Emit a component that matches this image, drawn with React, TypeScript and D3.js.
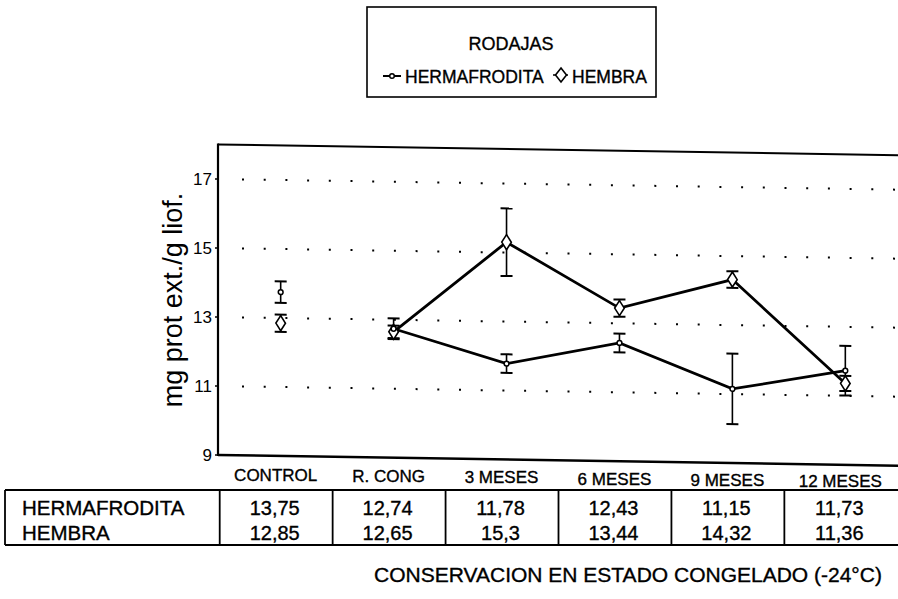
import React from "react";
import * as d3 from "d3";

const categories = ["CONTROL", "R. CONG", "3 MESES", "6 MESES", "9 MESES", "12 MESES"];
const hermafrodita = [13.75, 12.74, 11.78, 12.43, 11.15, 11.73];
const hembra = [12.85, 12.65, 15.3, 13.44, 14.32, 11.36];
const hermafroditaErr = [0.31, 0.3, 0.27, 0.27, 1.02, 0.72];
const hembraErr = [0.25, 0.18, 0.98, 0.25, 0.24, 0.22];
const tableHerm = ["13,75", "12,74", "11,78", "12,43", "11,15", "11,73"];
const tableHemb = ["12,85", "12,65", "15,3", "13,44", "14,32", "11,36"];
const yTicks = [9, 11, 13, 15, 17];
const gridValues = [11, 13, 15, 17];

const W = 898;
const H = 599;
const FONT = "'Liberation Sans', Arial, Helvetica, sans-serif";
const TS = { stroke: "#000", strokeWidth: 0.35 };

export default function App() {
  const x = d3.scalePoint<string>().domain(categories).range([218, 908]).padding(0.555);
  const y = d3.scaleLinear().domain([9, 18]).range([455, 144.5]);
  const step = x.step();
  const left = 218;
  const right = 908;

  const line = d3
    .line<[number, number]>()
    .x((d) => d[0])
    .y((d) => d[1]);

  const connected = (vals: number[]) =>
    vals.slice(1).map((v, i) => [x(categories[i + 1]) as number, y(v)] as [number, number]);

  const errBar = (cx: number, v: number, e: number, key: string) => {
    const t = y(v + e);
    const b = y(v - e);
    const cw = 6;
    return (
      <g key={key} stroke="#000">
        <line x1={cx} x2={cx} y1={t} y2={b} strokeWidth={1.6} />
        <line x1={cx - cw} x2={cx + cw} y1={t} y2={t} strokeWidth={2} />
        <line x1={cx - cw} x2={cx + cw} y1={b} y2={b} strokeWidth={2} />
      </g>
    );
  };

  const diamond = (cx: number, cy: number, hw: number, hh: number) =>
    `M${cx},${cy - hh}L${cx + hw},${cy}L${cx},${cy + hh}L${cx - hw},${cy}Z`;

  const skew = `translate(${left},0) skewY(0.9) translate(${-left},0)`;

  return (
    <svg
      width={W}
      height={H}
      style={{ position: "absolute", left: 0, top: 0, background: "#fff" }}
      fontFamily={FONT}
    >
      <rect x={0} y={0} width={W} height={H} fill="#fff" />

      {/* Legend */}
      <g>
        <rect x={367} y={7} width={289} height={90} fill="none" stroke="#000" strokeWidth={1.6} />
        <text x={511} y={50} textAnchor="middle" fontSize={18} fill="#000" {...TS}>
          RODAJAS
        </text>
        <line x1={383} x2={401} y1={76} y2={76} stroke="#000" strokeWidth={2} />
        <circle cx={392} cy={76} r={2.3} fill="#fff" stroke="#000" strokeWidth={1.5} />
        <text x={405} y={83} fontSize={17.5} fill="#000" {...TS}>
          HERMAFRODITA
        </text>
        <line x1={553} x2={568} y1={75} y2={75} stroke="#000" strokeWidth={1.5} />
        <path d={diamond(561, 75, 5.5, 7)} fill="#fff" stroke="#000" strokeWidth={1.6} />
        <text x={572} y={83} fontSize={17.5} fill="#000" {...TS}>
          HEMBRA
        </text>
      </g>

      {/* Y axis label */}
      <text
        transform={`translate(182,300) rotate(-90)`}
        textAnchor="middle"
        fontSize={27}
        fill="#000"
      >
        mg prot ext./g liof.
      </text>

      {/* Y tick labels */}
      {yTicks.map((t) => (
        <text key={t} x={212} y={y(t) + 6} textAnchor="end" fontSize={17} fill="#000">
          {t}
        </text>
      ))}

      {/* Plot area (slightly skewed like the scan) */}
      <g transform={skew}>
        {gridValues.map((g) => (
          <line
            key={g}
            x1={left + 24}
            x2={right}
            y1={y(g)}
            y2={y(g)}
            stroke="#000"
            strokeWidth={2}
            strokeDasharray="2 19.7"
          />
        ))}
        {yTicks.map((t) => (
          <line key={"tk" + t} x1={left - 3} x2={left} y1={y(t)} y2={y(t)} stroke="#000" strokeWidth={1.5} />
        ))}
        <line x1={left} x2={right} y1={y(18)} y2={y(18)} stroke="#000" strokeWidth={2} />
        <line x1={left} x2={right} y1={y(9)} y2={y(9)} stroke="#000" strokeWidth={2.5} />
        <line x1={left} x2={left} y1={y(18) - 1} y2={y(9) + 1} stroke="#000" strokeWidth={2.2} />

        <path d={line(connected(hembra)) || ""} fill="none" stroke="#000" strokeWidth={2.8} />
        <path d={line(connected(hermafrodita)) || ""} fill="none" stroke="#000" strokeWidth={2.8} />

        {categories.map((c, i) => errBar(x(c) as number, hermafrodita[i], hermafroditaErr[i], "eh" + i))}
        {categories.map((c, i) => errBar(x(c) as number, hembra[i], hembraErr[i], "ef" + i))}

        {categories.map((c, i) => (
          <path
            key={"d" + i}
            d={diamond(x(c) as number, y(hembra[i]), 4.8, 7.5)}
            fill="#fff"
            stroke="#000"
            strokeWidth={1.6}
          />
        ))}
        {categories.map((c, i) => (
          <circle
            key={"c" + i}
            cx={x(c) as number}
            cy={y(hermafrodita[i])}
            r={2.4}
            fill="#fff"
            stroke="#000"
            strokeWidth={1.5}
          />
        ))}
      </g>

      {/* Category labels */}
      {categories.map((c, i) => (
        <text
          key={"cl" + i}
          x={(x(c) as number) - 5}
          y={481 + i * 1.2}
          textAnchor="middle"
          fontSize={17}
          fill="#000"
          {...TS}
        >
          {c}
        </text>
      ))}

      {/* Data table */}
      <g>
        <line x1={5} x2={W} y1={490} y2={490} stroke="#000" strokeWidth={1.8} />
        <line x1={5} x2={W} y1={545} y2={545} stroke="#000" strokeWidth={1.8} />
        <line x1={5} x2={5} y1={490} y2={545} stroke="#000" strokeWidth={1.8} />
        {categories.map((c, i) => {
          const xe = (x(c) as number) - step / 2 - 4.5;
          return <line key={"tv" + i} x1={xe} x2={xe} y1={490} y2={545} stroke="#000" strokeWidth={1.8} />;
        })}
        <text x={22} y={515} fontSize={20.5} fill="#000" {...TS}>
          HERMAFRODITA
        </text>
        <text x={22} y={540} fontSize={20.5} fill="#000" {...TS}>
          HEMBRA
        </text>
        {categories.map((c, i) => (
          <text key={"th" + i} x={(x(c) as number) - 6} y={515} textAnchor="middle" fontSize={20} fill="#000" {...TS}>
            {tableHerm[i]}
          </text>
        ))}
        {categories.map((c, i) => (
          <text key={"tf" + i} x={(x(c) as number) - 6} y={540} textAnchor="middle" fontSize={20} fill="#000" {...TS}>
            {tableHemb[i]}
          </text>
        ))}
      </g>

      {/* X axis title */}
      <text x={628} y={582} textAnchor="middle" fontSize={21} fill="#000" {...TS}>
        CONSERVACION EN ESTADO CONGELADO (-24°C)
      </text>
    </svg>
  );
}
